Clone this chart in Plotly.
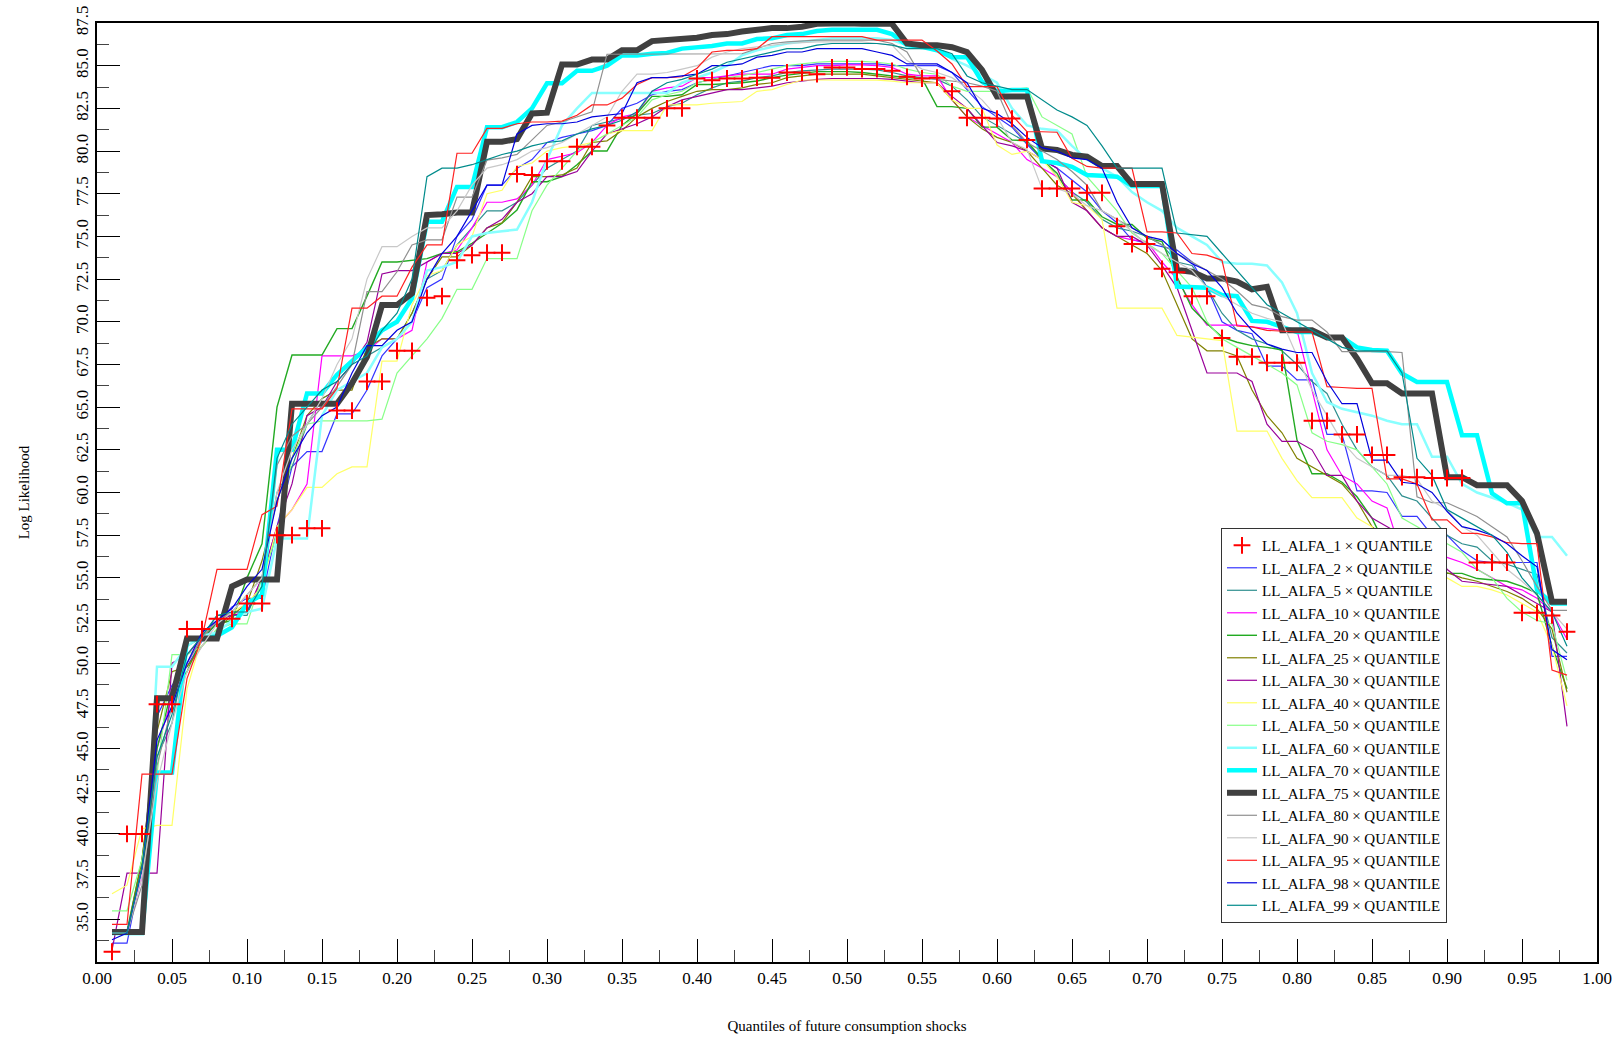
import plotly.graph_objects as go

QUANTILE = [0.01, 0.02, 0.03, 0.04, 0.05, 0.06, 0.07, 0.08, 0.09, 0.10,
            0.11, 0.12, 0.13, 0.14, 0.15, 0.16, 0.17, 0.18, 0.19, 0.20,
            0.21, 0.22, 0.23, 0.24, 0.25, 0.26, 0.27, 0.28, 0.29, 0.30,
            0.31, 0.32, 0.33, 0.34, 0.35, 0.36, 0.37, 0.38, 0.39, 0.40,
            0.41, 0.42, 0.43, 0.44, 0.45, 0.46, 0.47, 0.48, 0.49, 0.50,
            0.51, 0.52, 0.53, 0.54, 0.55, 0.56, 0.57, 0.58, 0.59, 0.60,
            0.61, 0.62, 0.63, 0.64, 0.65, 0.66, 0.67, 0.68, 0.69, 0.70,
            0.71, 0.72, 0.73, 0.74, 0.75, 0.76, 0.77, 0.78, 0.79, 0.80,
            0.81, 0.82, 0.83, 0.84, 0.85, 0.86, 0.87, 0.88, 0.89, 0.90,
            0.91, 0.92, 0.93, 0.94, 0.95, 0.96, 0.97, 0.98]

LL_ALFA_1 = [33.1, 40.0, 40.0, 47.6, 47.6, 52.0, 52.0, 52.6, 52.6, 53.5,
             53.5, 57.5, 57.5, 57.9, 57.9, 64.8, 64.8, 66.5, 66.5, 68.3,
             68.3, 71.4, 71.5, 73.6, 73.9, 74.05, 74.05, 78.65, 78.6, 79.4,
             79.4, 80.25, 80.25, 81.5, 81.95, 81.95, 81.95, 82.5, 82.5, 84.25,
             84.15, 84.25, 84.25, 84.3, 84.3, 84.6, 84.6, 84.5, 84.9, 84.9,
             84.8, 84.8, 84.7, 84.35, 84.25, 84.3, 83.5, 81.95, 81.95, 81.9,
             81.9, 80.65, 77.8, 77.8, 77.8, 77.55, 77.55, 75.6, 74.55, 74.55,
             73.1, 72.9, 71.5, 71.5, 69.05, 67.95, 67.95, 67.6, 67.6, 67.6,
             64.2, 64.2, 63.4, 63.4, 62.2, 62.2, 60.9, 60.9, 60.85, 60.85,
             60.85, 55.9, 55.9, 55.9, 52.95, 52.95, 52.8, 51.85]

LL_ALFA_2 = [33.6, 33.6, 38.0, 46.9, 48.7, 49.8, 51.3, 52.4, 53.3, 53.8,
             53.8, 58.0, 61.5, 62.4, 62.4, 64.6, 64.6, 66.0, 68.0, 69.0,
             70.0, 72.0, 72.5, 75.0, 76.0, 78.0, 78.0, 79.0, 79.5, 80.5,
             80.8, 81.0, 81.2, 81.5, 82.5, 82.8, 83.3, 83.5, 83.6, 84.0,
             84.2, 84.4, 84.6, 84.8, 85.0, 85.0, 85.0, 85.1, 85.1, 85.1,
             85.1, 85.1, 85.0, 85.0, 85.0, 85.0, 84.6, 83.6, 82.6, 82.0,
             81.4, 80.4, 79.5, 79.0, 78.3, 77.6, 76.5, 75.8, 74.8, 74.6,
             74.4, 74.2, 73.5, 72.0, 70.0, 69.5, 69.3, 67.4, 67.4, 66.6,
             66.6, 63.4, 63.4, 60.1, 60.1, 60.0, 58.6, 58.6, 57.5, 57.5,
             56.6, 56.0, 55.9, 55.9, 55.9, 55.9, 50.4, 50.4]

LL_ALFA_5 = [34.2, 34.2, 38.0, 44.5, 46.5, 51.0, 51.5, 52.8, 52.8, 52.8,
             55.0, 60.0, 61.5, 64.0, 65.5, 66.0, 66.5, 68.0, 68.5, 69.0,
             70.5, 72.5, 73.0, 74.5, 75.5, 76.5, 76.5, 77.0, 78.0, 79.0,
             79.5, 80.0, 81.5, 81.7, 81.9, 82.1, 82.2, 82.6, 82.8, 83.3,
             83.7, 84.0, 84.1, 84.3, 84.4, 84.6, 84.7, 84.75, 84.8, 84.8,
             84.8, 84.75, 84.6, 84.4, 84.3, 84.2, 83.8, 83.0, 82.0, 81.5,
             81.0, 80.5, 79.6, 78.5, 77.6, 77.0, 76.0, 75.5, 75.3, 75.0,
             74.5, 73.5, 73.3, 72.0, 70.5, 69.5, 69.0, 68.7, 68.3, 67.5,
             66.5, 65.8, 64.0, 62.5, 61.5, 61.0, 59.8, 59.5, 58.5, 57.5,
             57.0, 56.8, 56.0, 55.8, 55.5, 55.2, 51.5, 50.6]

LL_ALFA_10 = [34.2, 34.2, 37.5, 45.0, 48.0, 50.0, 51.5, 52.5, 53.0, 53.0,
              55.0, 58.0, 59.0, 60.5, 68.0, 68.0, 68.0, 68.3, 69.0, 69.0,
              69.5, 73.5, 74.0, 74.2, 75.5, 77.0, 77.0, 77.2, 78.0, 79.5,
              79.7, 79.9, 80.5, 81.5, 82.0, 82.2, 83.5, 83.7, 83.8, 84.3,
              84.3, 84.4, 84.5, 84.5, 84.5, 84.8, 84.9, 85.0, 85.0, 85.05,
              85.05, 85.0, 84.9, 84.5, 84.4, 84.4, 83.0, 82.0, 81.5, 81.0,
              80.5, 79.5, 79.0, 78.5, 77.6, 76.5, 75.5, 75.0, 74.8, 74.7,
              73.5, 72.5, 71.0, 69.8, 69.8, 69.8, 69.7, 69.6, 69.5, 69.5,
              66.0, 62.5, 61.0, 60.5, 59.5, 59.1, 56.3, 56.3, 56.2, 56.2,
              55.9, 55.5, 55.0, 54.5, 54.3, 53.8, 53.0, 51.4]

LL_ALFA_20 = [34.3, 34.3, 38.5, 45.0, 48.5, 49.5, 51.5, 52.3, 52.5, 55.0,
              57.0, 65.0, 68.05, 68.05, 68.05, 69.6, 69.6, 71.5, 73.5, 73.5,
              73.6, 73.7, 74.0, 74.1, 74.6, 75.2, 75.77, 76.55, 78.2, 78.2,
              78.5, 79.2, 80.0, 80.0, 81.5, 82.2, 83.2, 83.2, 83.3, 83.9,
              83.9, 83.95, 84.0, 84.1, 84.3, 84.45, 84.55, 84.65, 84.65, 84.65,
              84.6, 84.5, 84.4, 84.3, 84.25, 82.6, 82.6, 82.5, 81.4, 81.4,
              80.65, 80.6, 79.5, 78.7, 77.13, 77.13, 76.15, 75.7, 75.7, 74.9,
              74.7, 72.64, 70.8, 69.9, 69.1, 68.8, 68.6, 68.5, 68.35, 63.07,
              61.1, 61.1, 60.6, 59.75, 58.5, 56.7, 56.7, 56.7, 55.26, 55.26,
              55.26, 54.96, 54.9, 54.8, 54.5, 54.1, 51.0, 48.5]

LL_ALFA_25 = [34.2, 34.2, 38.5, 46.0, 49.5, 49.8, 51.0, 52.0, 52.8, 53.5,
              56.0, 59.5, 62.0, 64.5, 65.5, 66.0, 66.0, 68.5, 69.0, 69.0,
              70.5, 72.5, 73.8, 73.8, 74.5, 75.5, 75.8, 77.0, 78.5, 78.5,
              78.6, 79.0, 80.5, 80.6, 81.2, 82.0, 82.5, 82.9, 83.2, 83.5,
              83.6, 83.6, 83.7, 83.9, 84.0, 84.3, 84.4, 84.5, 84.5, 84.5,
              84.5, 84.4, 84.3, 84.2, 84.1, 84.0, 83.0, 82.0, 81.3, 80.8,
              80.5, 80.0, 79.0, 78.0, 77.5, 76.5, 75.5, 75.0, 74.5, 74.0,
              73.0, 71.0, 69.0, 68.3, 68.3, 68.0, 66.0, 64.5, 63.5, 62.0,
              61.5, 61.0, 60.5, 59.5, 58.0, 57.3, 56.5, 56.0, 55.5, 55.3,
              55.0, 54.8, 54.5, 54.2, 53.8, 53.2, 52.0, 48.3]

LL_ALFA_30 = [33.2, 37.7, 37.7, 37.7, 50.0, 50.5, 51.5, 52.5, 52.8, 53.0,
              55.0, 58.0, 60.5, 64.5, 65.0, 66.5, 67.5, 68.8, 72.8, 73.0,
              73.0, 73.5, 74.0, 74.0, 74.5, 75.5, 76.0, 77.0, 77.5, 78.5,
              78.5, 78.8, 80.0, 81.0, 81.3, 81.6, 82.0, 82.6, 83.0, 83.2,
              83.4, 83.6, 83.6, 83.7, 83.8, 84.0, 84.1, 84.2, 84.25, 84.25,
              84.25, 84.25, 84.2, 84.1, 84.0, 84.0, 83.2, 82.5, 81.5, 80.5,
              80.3, 80.0, 79.5, 79.0, 77.0, 76.5, 75.5, 75.0, 75.0, 74.5,
              73.3, 72.0, 69.5, 67.0, 67.0, 67.0, 66.5, 64.0, 63.0, 63.0,
              62.5, 61.0, 61.0, 59.5, 58.5, 58.0, 57.5, 57.5, 57.0, 55.5,
              54.8, 54.7, 54.6, 54.5, 54.0, 53.5, 53.0, 46.3]

LL_ALFA_40 = [36.5, 37.0, 40.3, 40.5, 40.5, 48.5, 51.5, 52.5, 53.0, 53.5,
              54.5, 58.0, 59.0, 60.3, 60.3, 61.1, 61.5, 61.5, 67.7, 67.7,
              71.0, 72.7, 73.0, 74.5, 75.0, 77.5, 77.7, 79.1, 79.3, 80.0,
              80.2, 80.3, 80.5, 81.0, 81.2, 81.2, 81.2, 82.7, 82.7, 82.7,
              82.8, 82.85, 82.9, 83.5, 83.6, 83.9, 84.16, 84.16, 84.16, 84.16,
              84.15, 84.15, 84.1, 84.0, 84.0, 84.0, 83.0, 82.5, 82.5, 80.35,
              79.8, 80.0, 79.5, 78.5, 77.0, 76.8, 76.0, 70.8, 70.8, 70.8,
              70.8, 69.2, 69.1, 69.0, 68.9, 63.6, 63.6, 63.6, 62.0, 60.7,
              59.7, 59.7, 59.7, 58.5, 58.0, 55.5, 55.5, 55.5, 55.5, 55.0,
              54.5, 54.5, 54.3, 54.0, 53.5, 53.0, 51.0, 47.5]

LL_ALFA_50 = [35.5, 35.5, 38.5, 43.5, 50.5, 50.5, 51.0, 52.0, 52.3, 52.3,
              55.0, 57.5, 62.0, 64.0, 64.2, 64.2, 64.2, 64.2, 64.3, 67.0,
              68.0, 69.0, 70.2, 71.9, 71.9, 73.7, 73.7, 73.7, 76.5, 78.0,
              79.0, 80.0, 80.5, 81.0, 81.5, 82.0, 83.0, 83.3, 83.5, 84.0,
              84.2, 84.3, 84.4, 84.6, 84.8, 85.0, 85.1, 85.2, 85.25, 85.25,
              85.25, 85.2, 85.1, 84.8, 84.6, 84.5, 83.8, 83.5, 83.5, 83.5,
              83.6, 83.7, 82.0, 81.5, 81.0, 78.5, 77.5, 76.5, 75.2, 74.6,
              74.0, 73.0, 72.0, 70.0, 69.0, 68.5, 68.0, 67.5, 67.0, 66.3,
              63.5, 63.0, 62.8, 62.5, 61.5, 60.5, 58.5, 58.0, 57.5, 57.0,
              56.5, 55.5, 55.0, 53.8, 53.0, 52.5, 52.3, 49.0]

LL_ALFA_60 = [34.2, 34.2, 34.2, 49.8, 49.8, 51.0, 51.6, 51.8, 52.5, 53.0,
              53.2, 57.3, 57.3, 57.3, 64.5, 66.0, 66.5, 67.0, 68.5, 69.0,
              70.0, 73.0, 73.2, 73.5, 75.0, 75.2, 75.3, 75.4, 77.0, 79.5,
              81.5, 82.5, 83.4, 83.4, 83.4, 83.4, 83.4, 83.4, 84.0, 84.3,
              84.6, 85.0, 85.6, 85.9, 86.1, 86.3, 86.4, 86.5, 86.6, 86.6,
              86.6, 86.6, 86.5, 86.2, 86.1, 86.0, 85.4, 85.0, 84.5, 84.0,
              82.5, 81.5, 81.3, 81.2, 80.3, 79.5, 79.0, 78.5, 77.6, 77.0,
              76.5, 75.5, 75.0, 74.5, 73.5, 73.4, 73.4, 73.3, 72.3, 70.5,
              67.0, 65.3, 64.9, 64.7, 64.5, 64.2, 64.0, 64.0, 62.1, 62.1,
              60.5, 60.0, 59.7, 59.4, 59.0, 57.4, 57.4, 56.3]

LL_ALFA_70 = [34.2, 34.2, 34.2, 43.6, 43.6, 51.4, 51.4, 51.6, 52.1, 53.5,
              54.0, 62.5, 62.5, 65.8, 65.8, 66.9, 67.66, 68.5, 69.5, 70.0,
              71.37, 75.86, 75.86, 77.9, 77.9, 81.4, 81.4, 81.7, 82.5, 83.97,
              83.97, 84.7, 84.7, 85.0, 85.6, 85.6, 85.7, 85.75, 86.0, 86.05,
              86.15, 86.3, 86.3, 86.56, 86.6, 86.8, 86.85, 87.03, 87.1, 87.1,
              87.1, 87.1, 86.85, 86.2, 86.1, 85.9, 85.5, 85.5, 84.06, 83.5,
              83.57, 83.57, 79.4, 79.3, 79.08, 78.6, 78.55, 78.5, 77.95, 77.95,
              77.95, 72.06, 72.06, 72.0, 71.57, 71.5, 70.05, 70.0, 69.7, 69.4,
              69.4, 69.1, 69.1, 68.5, 68.35, 68.3, 66.97, 66.47, 66.47, 66.47,
              63.36, 63.36, 59.95, 59.37, 59.37, 54.3, 53.5, 53.5]

LL_ALFA_75 = [34.25, 34.25, 34.25, 47.95, 47.95, 51.45, 51.45, 51.45, 54.5, 54.9,
              54.9, 54.9, 65.2, 65.2, 65.2, 65.2, 66.4, 67.95, 70.98, 70.98,
              71.67, 76.25, 76.3, 76.4, 76.4, 80.55, 80.55, 80.7, 82.2, 82.25,
              85.07, 85.07, 85.36, 85.36, 85.9, 85.9, 86.44, 86.5, 86.64, 86.64,
              86.8, 86.85, 87.0, 87.13, 87.2, 87.2, 87.28, 87.45, 87.48, 87.48,
              87.45, 87.45, 87.45, 86.3, 86.2, 86.2, 86.08, 85.8, 84.75, 83.2,
              83.2, 83.2, 80.15, 80.06, 79.77, 79.67, 79.12, 79.12, 78.07, 78.07,
              78.07, 73.03, 72.93, 72.54, 72.54, 72.35, 71.9, 72.05, 69.5, 69.5,
              69.5, 69.08, 69.08, 67.85, 66.4, 66.4, 65.8, 65.8, 65.8, 60.9,
              60.9, 60.43, 60.43, 60.43, 59.5, 57.6, 53.6, 53.6]

LL_ALFA_80 = [34.2, 34.2, 37.0, 44.0, 47.5, 50.0, 51.5, 52.5, 53.0, 54.0,
              55.0, 61.6, 63.3, 64.0, 65.0, 66.2, 67.5, 71.76, 71.76, 72.93,
              74.5, 74.8, 74.8, 77.3, 77.3, 79.47, 79.6, 79.8, 80.65, 81.5,
              81.7, 82.0, 82.3, 85.67, 85.67, 85.67, 85.67, 85.67, 85.67, 85.7,
              85.7, 85.7, 85.7, 86.0, 86.3, 86.4, 86.45, 86.5, 86.5, 86.5,
              86.5, 86.5, 86.3, 85.8, 84.3, 84.2, 84.1, 84.0, 83.8, 83.5,
              81.5, 80.5, 80.0, 79.5, 78.8, 78.0, 76.5, 76.0, 75.5, 75.0,
              74.5, 74.0, 73.5, 73.0, 72.5, 71.8, 71.0, 70.8, 70.3, 70.1,
              70.1, 69.4, 68.25, 68.25, 68.25, 68.25, 68.2, 59.75, 59.4, 59.4,
              59.0, 58.6, 58.0, 57.4, 56.0, 54.5, 53.1, 53.1]

LL_ALFA_90 = [34.2, 34.2, 37.5, 43.0, 46.5, 49.5, 51.0, 52.3, 53.0, 54.0,
              55.0, 60.0, 62.5, 64.0, 65.5, 67.5, 69.0, 72.5, 74.4, 74.4,
              75.0, 75.5, 75.5, 76.5, 78.0, 79.0, 79.2, 79.5, 80.0, 80.2,
              80.5, 81.0, 81.5, 82.0, 83.5, 84.5, 84.5, 84.6, 84.8, 85.0,
              85.5, 85.8, 86.0, 86.1, 86.2, 86.3, 86.35, 86.4, 86.4, 86.4,
              86.4, 86.3, 86.2, 85.3, 84.8, 84.6, 84.3, 83.7, 83.0, 82.0,
              80.5, 80.1, 77.8, 77.8, 77.5, 76.8, 76.5, 76.0, 75.3, 74.5,
              74.0, 73.5, 73.0, 72.0, 71.5, 71.0, 70.5, 70.2, 70.0, 68.0,
              66.0, 64.5, 63.0, 62.0, 61.5, 61.0, 61.0, 60.8, 59.5, 59.0,
              58.0, 57.5, 56.5, 55.5, 54.8, 54.0, 53.0, 52.0]

LL_ALFA_95 = [34.7, 34.7, 43.5, 43.5, 43.5, 49.1, 51.5, 55.5, 55.5, 55.5,
              58.7, 59.2, 64.9, 64.9, 64.9, 66.1, 70.8, 70.8, 71.5, 71.5,
              73.2, 74.5, 74.5, 79.87, 79.87, 81.33, 81.33, 81.6, 81.7, 81.7,
              81.75, 82.1, 82.7, 82.7, 83.1, 83.9, 84.3, 84.3, 84.35, 84.85,
              85.8, 85.9, 85.9, 86.0, 86.7, 86.7, 86.7, 86.7, 86.7, 86.7,
              86.7, 86.5, 86.5, 86.5, 86.5, 85.86, 85.1, 83.77, 83.77, 83.77,
              82.1, 81.13, 81.13, 81.1, 79.57, 79.1, 79.0, 79.0, 79.0, 75.27,
              75.27, 75.2, 74.0, 73.9, 73.6, 69.75, 69.7, 69.5, 69.45, 69.4,
              69.4, 66.2, 66.15, 66.1, 66.1, 60.8, 60.8, 60.5, 58.4, 58.4,
              57.6, 57.6, 57.4, 57.06, 57.0, 57.0, 49.6, 49.3]

LL_ALFA_98 = [33.8, 34.2, 38.0, 45.5, 47.5, 50.0, 51.8, 52.5, 53.2, 54.5,
              55.5, 59.5, 62.0, 63.5, 64.5, 65.0, 67.0, 68.6, 68.6, 69.5,
              70.0, 72.5, 74.0, 75.0, 76.5, 78.0, 78.0, 81.0, 81.5, 81.6,
              81.6, 81.7, 82.0, 82.1, 82.2, 84.0, 84.3, 84.3, 84.4, 84.5,
              85.0, 85.0, 85.1, 85.5, 85.6, 85.8, 85.8, 86.0, 86.0, 86.0,
              86.0, 85.8, 85.6, 85.1, 85.1, 85.1, 84.6, 84.0, 82.5, 82.2,
              81.6, 80.8, 80.2, 80.0, 79.6, 79.5, 79.0, 77.0, 75.5, 75.0,
              74.8, 74.0, 73.4, 73.0, 72.0, 70.5, 69.5, 68.7, 68.4, 68.2,
              68.2, 66.5, 65.2, 65.2, 61.9, 61.9, 60.6, 60.5, 60.0, 58.9,
              58.0, 57.8, 57.5, 57.0, 56.3, 55.65, 50.8, 50.2]

LL_ALFA_99 = [34.2, 34.2, 38.0, 44.5, 47.0, 50.5, 51.6, 52.8, 53.0, 53.0,
              54.5, 62.0, 64.0, 65.0, 66.0, 66.5, 67.5, 68.0, 69.5, 70.5,
              72.5, 78.5, 79.0, 79.0, 79.2, 79.5, 79.8, 80.0, 80.3, 80.5,
              80.6, 81.0, 81.3, 81.5, 81.8, 82.3, 83.5, 84.0, 84.2, 84.5,
              84.8, 85.2, 85.4, 85.6, 85.8, 86.0, 86.0, 86.2, 86.3, 86.3,
              86.3, 86.3, 86.2, 86.0, 86.0, 86.0, 85.7, 84.4, 84.0, 83.8,
              83.6, 83.6, 83.0, 82.4, 82.0, 81.5, 80.3, 79.0, 79.0, 79.0,
              79.0, 75.2, 75.1, 75.0, 74.0, 73.0, 72.0, 71.0, 70.5, 70.0,
              69.5, 69.0, 68.5, 68.3, 68.3, 68.3, 67.0, 62.0, 61.0, 59.0,
              58.5, 58.0, 57.5, 56.5, 55.0, 54.0, 53.0, 51.0]

SERIES_NAMES = ["LL_ALFA_1", "LL_ALFA_2", "LL_ALFA_5", "LL_ALFA_10", "LL_ALFA_20",
                "LL_ALFA_25", "LL_ALFA_30", "LL_ALFA_40", "LL_ALFA_50", "LL_ALFA_60",
                "LL_ALFA_70", "LL_ALFA_75", "LL_ALFA_80", "LL_ALFA_90", "LL_ALFA_95",
                "LL_ALFA_98", "LL_ALFA_99"]
SERIES_VALUES = [LL_ALFA_1, LL_ALFA_2, LL_ALFA_5, LL_ALFA_10, LL_ALFA_20,
                 LL_ALFA_25, LL_ALFA_30, LL_ALFA_40, LL_ALFA_50, LL_ALFA_60,
                 LL_ALFA_70, LL_ALFA_75, LL_ALFA_80, LL_ALFA_90, LL_ALFA_95,
                 LL_ALFA_98, LL_ALFA_99]

COLORS = ["#ff0000", "#3535ff", "#2e8f8f", "#ff00ff", "#22aa22",
          "#808000", "#990099", "#ffff66", "#88ff88", "#88ffff",
          "#00ffff", "#404040", "#909090", "#c8c8c8", "#ff2020",
          "#0000dd", "#008b8b"]
WIDTHS = [0, 1.2, 1.2, 1.2, 1.4, 1.2, 1.2, 1.2, 1.2, 2.5,
          4.5, 6.0, 1.2, 1.2, 1.2, 1.2, 1.2]

X_TICKS = [0.00, 0.05, 0.10, 0.15, 0.20, 0.25, 0.30, 0.35, 0.40, 0.45, 0.50,
           0.55, 0.60, 0.65, 0.70, 0.75, 0.80, 0.85, 0.90, 0.95, 1.00]
Y_TICKS = [35.0, 37.5, 40.0, 42.5, 45.0, 47.5, 50.0, 52.5, 55.0, 57.5, 60.0,
           62.5, 65.0, 67.5, 70.0, 72.5, 75.0, 77.5, 80.0, 82.5, 85.0, 87.5]

FONT = "Liberation Serif, Times New Roman, serif"

fig = go.Figure()
traces = []
for rank, (name, vals, col, w) in enumerate(zip(SERIES_NAMES, SERIES_VALUES, COLORS, WIDTHS)):
    label = name + " \u00d7 QUANTILE"
    if w == 0:
        tr = go.Scatter(
            x=QUANTILE, y=vals, mode="markers", name=label, legendrank=rank + 1,
            marker=dict(symbol="cross-thin", size=12,
                        line=dict(width=2, color=col), color=col))
    else:
        tr = go.Scatter(
            x=QUANTILE, y=vals, mode="lines", name=label, legendrank=rank + 1,
            line=dict(color=col, width=w))
    traces.append(tr)
# draw the marker series on top of the lines
for tr in traces[1:] + traces[:1]:
    fig.add_trace(tr)

fig.update_layout(
    width=1621, height=1040, autosize=False,
    margin=dict(l=97, r=24, t=23, b=78, autoexpand=False),
    paper_bgcolor="white", plot_bgcolor="white",
    font=dict(family=FONT, size=17, color="black"),
    showlegend=True,
    legend=dict(x=0.9, xanchor="right", y=0.0415, yanchor="bottom",
                bgcolor="white", bordercolor="#333333", borderwidth=1,
                font=dict(family=FONT, size=15, color="black"),
                tracegroupgap=0, itemwidth=30, traceorder="normal"),
)
fig.update_xaxes(
    range=[0, 1], tickmode="array", tickvals=X_TICKS, tickformat=".2f",
    ticks="inside", ticklen=23, tickwidth=1, tickcolor="black",
    minor=dict(tickmode="linear", tick0=0.025, dtick=0.05, ticks="inside",
               ticklen=12, tickwidth=1, tickcolor="#444444"),
    showline=True, linecolor="black", linewidth=1.5, mirror=True,
    showgrid=False, zeroline=False, automargin=False,
    tickfont=dict(family=FONT, size=17),
    title=dict(text="Quantiles of future consumption shocks",
               font=dict(family=FONT, size=15), standoff=33),
)
fig.update_yaxes(
    range=[32.5, 87.5], tickmode="array", tickvals=Y_TICKS, tickformat=".1f",
    ticks="inside", ticklen=23, tickwidth=1, tickcolor="black",
    minor=dict(tickmode="linear", tick0=33.75, dtick=2.5, ticks="inside",
               ticklen=12, tickwidth=1, tickcolor="#444444"),
    showline=True, linecolor="black", linewidth=1.5, mirror=True,
    showgrid=False, zeroline=False, tickangle=-90, automargin=False,
    tickfont=dict(family=FONT, size=17),
    title=dict(text="Log Likelihood", font=dict(family=FONT, size=15), standoff=40),
)

fig.write_html("out.html", config={"displayModeBar": False},
               post_script="document.body.style.margin='0';")
